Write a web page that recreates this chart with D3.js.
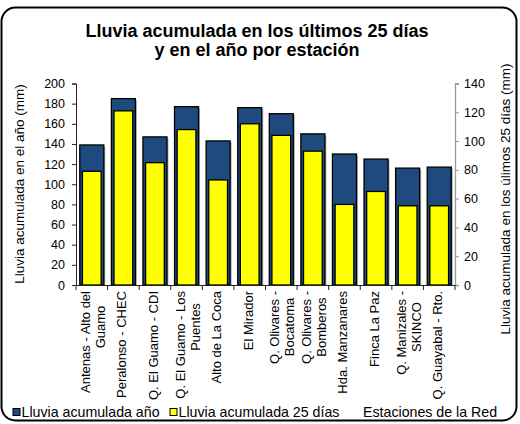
<!DOCTYPE html>
<html>
<head>
<meta charset="utf-8">
<script src="https://cdn.jsdelivr.net/npm/d3@7"></script>
<style>
  body { margin: 0; background: #fff; }
  svg { display: block; font-family: "Liberation Sans", Arial, sans-serif; }
</style>
</head>
<body>
<svg id="chart" width="520" height="424"></svg>
<script>
// stations (\n marks the wrapped second line of the label)
var stations = [
	'Antenas - Alto del\nGuamo', 'Peralonso - CHEC', 'Q. El Guamo - CDI',
	'Q. El Guamo - Los\nPuentes', 'Alto de La Coca', 'El Mirador',
	'Q. Olivares -\nBocatoma', 'Q. Olivares -\nBomberos', 'Hda. Manzanares',
	'Finca La Paz', 'Q. Manizales -\nSKINCO', 'Q. Guayabal - Rto.'
];
var lluviaAnio = [139, 185, 147, 177, 143, 176, 170, 150, 130, 125, 116, 117];
var lluvia25 = [79, 121, 85, 108, 73, 112, 104, 93, 56, 65, 55, 55];
var leftTicks = [0, 20, 40, 60, 80, 100, 120, 140, 160, 180, 200];
var rightTicks = [0, 20, 40, 60, 80, 100, 120, 140];

var AZUL = '#1f4a7e', AMARILLO = '#ffff00';

var svg = d3.select('#chart');
var plot = { left: 76, right: 455, top: 83.5, bottom: 285 };

// outer rounded frame
svg.append('rect')
	.attr('x', 1.5).attr('y', 7.5).attr('width', 515).attr('height', 413)
	.attr('rx', 14).attr('ry', 14)
	.attr('fill', '#fff').attr('stroke', '#000').attr('stroke-width', 2);

// title
svg.append('text')
	.attr('x', 257).attr('y', 37)
	.attr('text-anchor', 'middle')
	.style('font-size', '18px').style('font-weight', 'bold')
	.text('Lluvia acumulada en los últimos 25 días');
svg.append('text')
	.attr('x', 257).attr('y', 56)
	.attr('text-anchor', 'middle')
	.style('font-size', '18px').style('font-weight', 'bold')
	.text('y en el año por estación');

var x = d3.scaleBand().domain(stations).range([plot.left, plot.right])
	.paddingInner(0.24).paddingOuter(0.12);
var yL = d3.scaleLinear().domain([0, 200]).range([plot.bottom, plot.top]);
var yR = d3.scaleLinear().domain([0, 140]).range([plot.bottom, plot.top]);

var bw = x.bandwidth(), yw = bw * 0.78;

// shadows
svg.append('g').selectAll('rect').data(stations).enter().append('rect')
	.attr('x', function(d) { return x(d) + 1.5; })
	.attr('y', function(d, i) { return yL(lluviaAnio[i]) + 1.5; })
	.attr('width', bw)
	.attr('height', function(d, i) { return plot.bottom - yL(lluviaAnio[i]) - 1.5; })
	.attr('fill', '#aaa');

// year bars (left axis)
svg.append('g').selectAll('rect').data(stations).enter().append('rect')
	.attr('x', function(d) { return x(d); })
	.attr('y', function(d, i) { return yL(lluviaAnio[i]); })
	.attr('width', bw)
	.attr('height', function(d, i) { return plot.bottom - yL(lluviaAnio[i]); })
	.attr('fill', AZUL).attr('stroke', '#000').attr('stroke-width', 1.3);

// 25 day bars (right axis)
svg.append('g').selectAll('rect').data(stations).enter().append('rect')
	.attr('x', function(d) { return x(d) + (bw - yw) / 2; })
	.attr('y', function(d, i) { return yR(lluvia25[i]); })
	.attr('width', yw)
	.attr('height', function(d, i) { return plot.bottom - yR(lluvia25[i]); })
	.attr('fill', AMARILLO).attr('stroke', '#000').attr('stroke-width', 1.3);

// left axis
var gL = svg.append('g').attr('transform', 'translate(' + plot.left + ',0)')
	.call(d3.axisLeft(yL).tickValues(leftTicks).tickSize(4).tickPadding(7));
gL.select('.domain').attr('stroke', '#222');
gL.selectAll('.tick line').attr('stroke', '#222');
gL.selectAll('.tick text').style('font-size', '12.5px').style('font-family', '"Liberation Sans", Arial, sans-serif').attr('fill', '#000');

// right axis
var gR = svg.append('g').attr('transform', 'translate(' + plot.right + ',0)')
	.call(d3.axisRight(yR).tickValues(rightTicks).tickSize(4).tickPadding(5));
gR.select('.domain').attr('stroke', '#999').attr('stroke-width', 1.3);
gR.selectAll('.tick line').attr('stroke', '#999');
gR.selectAll('.tick text').style('font-size', '12.5px').style('font-family', '"Liberation Sans", Arial, sans-serif').attr('fill', '#000');

// x axis: line with ticks between categories
svg.append('line')
	.attr('x1', plot.left - 4).attr('x2', plot.right)
	.attr('y1', plot.bottom + 0.5).attr('y2', plot.bottom + 0.5)
	.attr('stroke', '#222');
var step = x.step();
svg.append('g').selectAll('line').data(d3.range(stations.length + 1)).enter().append('line')
	.attr('x1', function(i) { return plot.left + i * step; })
	.attr('x2', function(i) { return plot.left + i * step; })
	.attr('y1', plot.bottom).attr('y2', plot.bottom + 5)
	.attr('stroke', '#222');

// category labels, rotated; wrapped lines are centred in a ~72px box
var labelTop = 291, wrapW = 72;
stations.forEach(function(s) {
	var lines = s.split('\n');
	var cx = x(s) + bw / 2;
	var g = svg.append('g').attr('transform', 'translate(' + cx + ',' + labelTop + ') rotate(-90)');
	lines.forEach(function(l, k) {
		var t = g.append('text')
			.style('font-size', '13px')
			.attr('y', lines.length === 1 ? 3 : (k === 0 ? -2 : 13))
			.text(l);
		var w = t.node().getComputedTextLength();
		if (lines.length === 1 || w >= wrapW) {
			t.attr('text-anchor', 'end').attr('x', 0);
		} else {
			t.attr('text-anchor', 'middle').attr('x', -wrapW / 2);
		}
	});
});

// axis titles
svg.append('text')
	.attr('transform', 'translate(24,184) rotate(-90)')
	.attr('text-anchor', 'middle')
	.style('font-size', '13.5px')
	.text('Lluvia acumulada en el año (mm)');
svg.append('text')
	.attr('transform', 'translate(510,199) rotate(-90)')
	.attr('text-anchor', 'middle')
	.style('font-size', '13.5px')
	.text('Lluvia acumulada en los úlimos 25 días (mm)');

// legend
var legend = [
	{ x: 13, color: AZUL, label: 'Lluvia acumulada año' },
	{ x: 170, color: AMARILLO, label: 'Lluvia acumulada 25 días' },
	{ x: 363, color: null, label: 'Estaciones de la Red' }
];
var lg = svg.append('g').selectAll('g').data(legend).enter().append('g');
lg.filter(function(d) { return d.color; }).append('rect')
	.attr('x', function(d) { return d.x; }).attr('y', 408.5)
	.attr('width', 7).attr('height', 7)
	.attr('fill', function(d) { return d.color; })
	.attr('stroke', '#000').attr('stroke-width', 1);
lg.append('text')
	.attr('x', function(d) { return d.color ? d.x + 8.5 : d.x; })
	.attr('y', 417)
	.style('font-size', '14.2px')
	.text(function(d) { return d.label; });
</script>
</body>
</html>
